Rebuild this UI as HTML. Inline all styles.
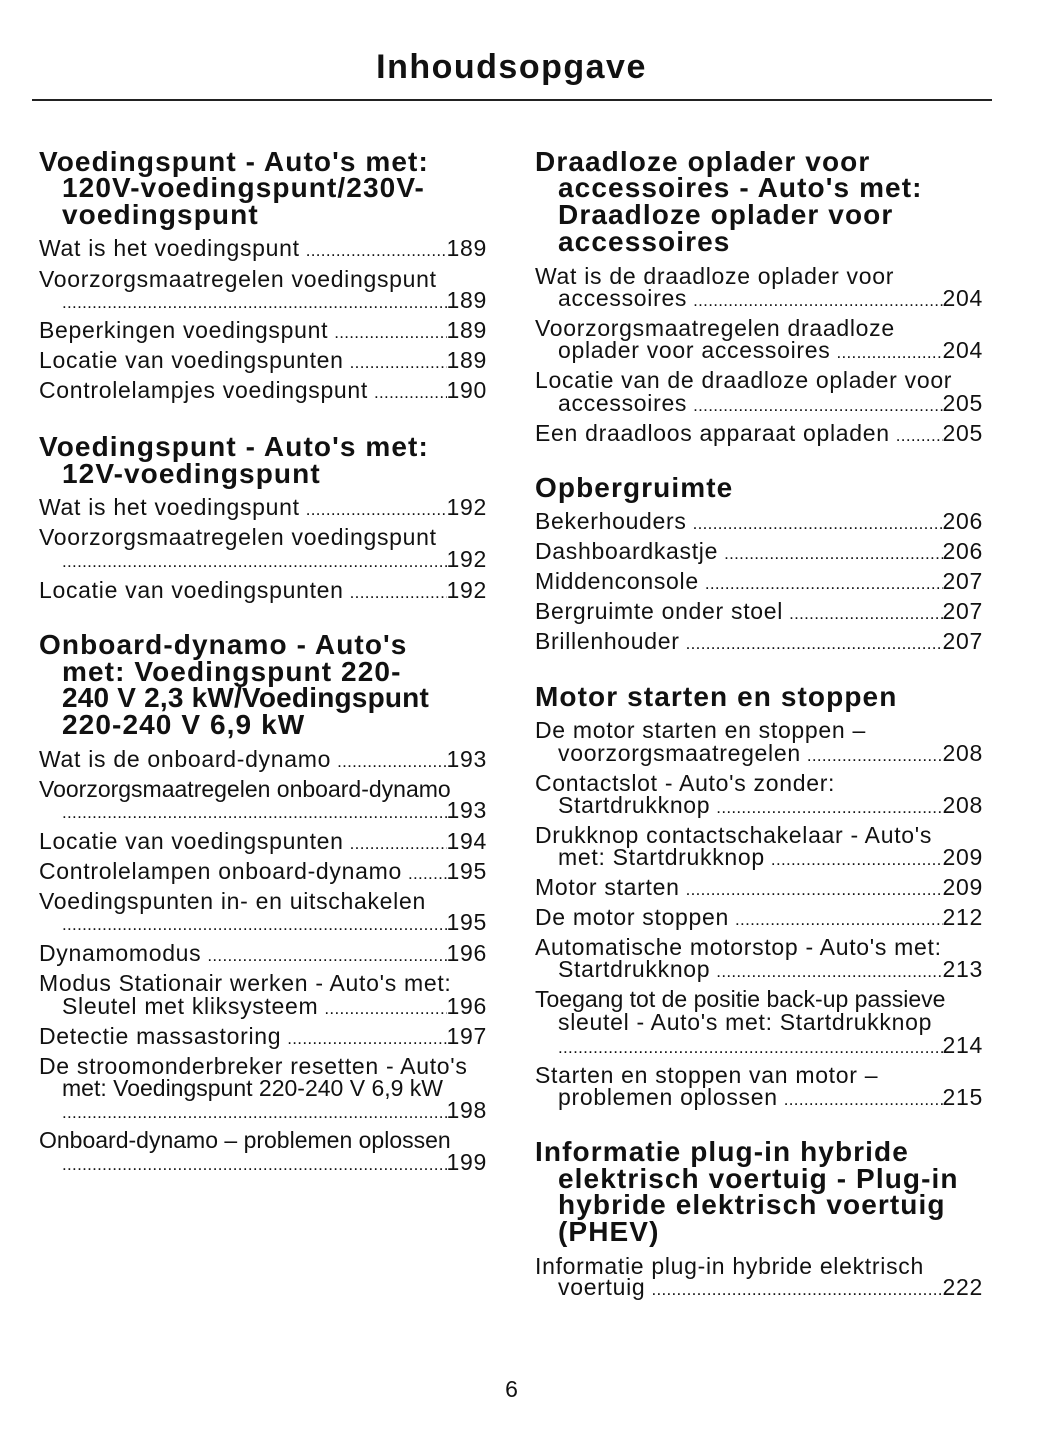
<!DOCTYPE html>
<html><head><meta charset="utf-8"><style>
body{margin:0;background:#fff;}
#p{position:relative;width:1055px;height:1448px;overflow:hidden;background:#fff;color:#111;font-family:"Liberation Sans",sans-serif;}
.t{position:absolute;left:0;width:1023px;text-align:center;top:47px;font-size:34px;font-weight:900;line-height:40px;letter-spacing:1.5px;}
.rule{position:absolute;left:32px;top:99px;width:960px;height:1.5px;background:#222;}
.l,.h{position:absolute;white-space:nowrap;display:flex;}
.l{font-size:23px;line-height:26px;height:26px;letter-spacing:0.7px;}
.h{font-size:28px;font-weight:900;line-height:28px;height:28px;letter-spacing:1.1px;}
.L{left:39px;width:448px;}
.R{left:535px;width:448px;}
.i{padding-left:23px;box-sizing:border-box;}
.d{flex:1;overflow:hidden;font-size:17px;letter-spacing:0.3px;padding:0 2px 0 6px;align-self:flex-end;line-height:20px;}
.i .d:first-child{padding-left:0;}
.pn{position:absolute;left:0;width:1023px;text-align:center;top:1376px;font-size:23px;line-height:26px;}
</style></head><body><div id="p">
<div class="t">Inhoudsopgave</div>
<div class="rule"></div>

<div class="h L" style="top:148px">Voedingspunt - Auto's met:</div>
<div class="h L i" style="top:174px">120V-voedingspunt/230V-</div>
<div class="h L i" style="top:201px">voedingspunt</div>
<div class="l L" style="top:235px"><span>Wat is het voedingspunt</span><span class="d">................................................................................................</span><span>189</span></div>
<div class="l L" style="top:266px"><span>Voorzorgsmaatregelen voedingspunt</span></div>
<div class="l L i" style="top:287px"><span class="d">................................................................................................................................</span><span>189</span></div>
<div class="l L" style="top:317px"><span>Beperkingen voedingspunt</span><span class="d">................................................................................................</span><span>189</span></div>
<div class="l L" style="top:347px"><span>Locatie van voedingspunten</span><span class="d">................................................................................................</span><span>189</span></div>
<div class="l L" style="top:377px"><span>Controlelampjes voedingspunt</span><span class="d">................................................................................................</span><span>190</span></div>

<div class="h L" style="top:433px">Voedingspunt - Auto's met:</div>
<div class="h L i" style="top:460px">12V-voedingspunt</div>
<div class="l L" style="top:494px"><span>Wat is het voedingspunt</span><span class="d">................................................................................................</span><span>192</span></div>
<div class="l L" style="top:524px"><span>Voorzorgsmaatregelen voedingspunt</span></div>
<div class="l L i" style="top:546px"><span class="d">................................................................................................................................</span><span>192</span></div>
<div class="l L" style="top:577px"><span>Locatie van voedingspunten</span><span class="d">................................................................................................</span><span>192</span></div>

<div class="h L" style="top:631px">Onboard-dynamo - Auto's</div>
<div class="h L i" style="top:658px">met: Voedingspunt 220-</div>
<div class="h L i" style="top:684px;letter-spacing:0.2px">240 V 2,3 kW/Voedingspunt</div>
<div class="h L i" style="top:711px">220-240 V 6,9 kW</div>
<div class="l L" style="top:746px"><span>Wat is de onboard-dynamo</span><span class="d">................................................................................................</span><span>193</span></div>
<div class="l L" style="top:776px"><span style="letter-spacing:0px">Voorzorgsmaatregelen onboard-dynamo</span></div>
<div class="l L i" style="top:797px"><span class="d">................................................................................................................................</span><span>193</span></div>
<div class="l L" style="top:828px"><span>Locatie van voedingspunten</span><span class="d">................................................................................................</span><span>194</span></div>
<div class="l L" style="top:858px"><span>Controlelampen onboard-dynamo</span><span class="d">................................................................................................</span><span>195</span></div>
<div class="l L" style="top:888px"><span>Voedingspunten in- en uitschakelen</span></div>
<div class="l L i" style="top:909px"><span class="d">................................................................................................................................</span><span>195</span></div>
<div class="l L" style="top:940px"><span>Dynamomodus</span><span class="d">................................................................................................</span><span>196</span></div>
<div class="l L" style="top:970px"><span>Modus Stationair werken - Auto's met:</span></div>
<div class="l L i" style="top:993px"><span>Sleutel met kliksysteem</span><span class="d">................................................................................................</span><span>196</span></div>
<div class="l L" style="top:1023px"><span>Detectie massastoring</span><span class="d">................................................................................................</span><span>197</span></div>
<div class="l L" style="top:1053px"><span>De stroomonderbreker resetten - Auto's</span></div>
<div class="l L i" style="top:1075px"><span style="letter-spacing:0px">met: Voedingspunt 220-240 V 6,9 kW</span></div>
<div class="l L i" style="top:1097px"><span class="d">................................................................................................................................</span><span>198</span></div>
<div class="l L" style="top:1127px"><span style="letter-spacing:0px">Onboard-dynamo – problemen oplossen</span></div>
<div class="l L i" style="top:1149px"><span class="d">................................................................................................................................</span><span>199</span></div>

<div class="h R" style="top:148px">Draadloze oplader voor</div>
<div class="h R i" style="top:174px">accessoires - Auto's met:</div>
<div class="h R i" style="top:201px">Draadloze oplader voor</div>
<div class="h R i" style="top:228px">accessoires</div>
<div class="l R" style="top:263px"><span>Wat is de draadloze oplader voor</span></div>
<div class="l R i" style="top:285px"><span>accessoires</span><span class="d">................................................................................................</span><span>204</span></div>
<div class="l R" style="top:315px"><span>Voorzorgsmaatregelen draadloze</span></div>
<div class="l R i" style="top:337px"><span>oplader voor accessoires</span><span class="d">................................................................................................</span><span>204</span></div>
<div class="l R" style="top:367px"><span>Locatie van de draadloze oplader voor</span></div>
<div class="l R i" style="top:390px"><span>accessoires</span><span class="d">................................................................................................</span><span>205</span></div>
<div class="l R" style="top:420px"><span>Een draadloos apparaat opladen</span><span class="d">................................................................................................</span><span>205</span></div>

<div class="h R" style="top:474px">Opbergruimte</div>
<div class="l R" style="top:508px"><span>Bekerhouders</span><span class="d">................................................................................................</span><span>206</span></div>
<div class="l R" style="top:538px"><span>Dashboardkastje</span><span class="d">................................................................................................</span><span>206</span></div>
<div class="l R" style="top:568px"><span>Middenconsole</span><span class="d">................................................................................................</span><span>207</span></div>
<div class="l R" style="top:598px"><span>Bergruimte onder stoel</span><span class="d">................................................................................................</span><span>207</span></div>
<div class="l R" style="top:628px"><span>Brillenhouder</span><span class="d">................................................................................................</span><span>207</span></div>

<div class="h R" style="top:683px">Motor starten en stoppen</div>
<div class="l R" style="top:717px"><span>De motor starten en stoppen –</span></div>
<div class="l R i" style="top:740px"><span>voorzorgsmaatregelen</span><span class="d">................................................................................................</span><span>208</span></div>
<div class="l R" style="top:770px"><span>Contactslot - Auto's zonder:</span></div>
<div class="l R i" style="top:792px"><span>Startdrukknop</span><span class="d">................................................................................................</span><span>208</span></div>
<div class="l R" style="top:822px"><span>Drukknop contactschakelaar - Auto's</span></div>
<div class="l R i" style="top:844px"><span>met: Startdrukknop</span><span class="d">................................................................................................</span><span>209</span></div>
<div class="l R" style="top:874px"><span>Motor starten</span><span class="d">................................................................................................</span><span>209</span></div>
<div class="l R" style="top:904px"><span>De motor stoppen</span><span class="d">................................................................................................</span><span>212</span></div>
<div class="l R" style="top:934px"><span>Automatische motorstop - Auto's met:</span></div>
<div class="l R i" style="top:956px"><span>Startdrukknop</span><span class="d">................................................................................................</span><span>213</span></div>
<div class="l R" style="top:986px"><span style="letter-spacing:0px">Toegang tot de positie back-up passieve</span></div>
<div class="l R i" style="top:1009px"><span>sleutel - Auto's met: Startdrukknop</span></div>
<div class="l R i" style="top:1032px"><span class="d">................................................................................................................................</span><span>214</span></div>
<div class="l R" style="top:1062px"><span>Starten en stoppen van motor –</span></div>
<div class="l R i" style="top:1084px"><span>problemen oplossen</span><span class="d">................................................................................................</span><span>215</span></div>

<div class="h R" style="top:1138px">Informatie plug-in hybride</div>
<div class="h R i" style="top:1165px">elektrisch voertuig - Plug-in</div>
<div class="h R i" style="top:1191px">hybride elektrisch voertuig</div>
<div class="h R i" style="top:1218px">(PHEV)</div>
<div class="l R" style="top:1253px"><span>Informatie plug-in hybride elektrisch</span></div>
<div class="l R i" style="top:1274px"><span>voertuig</span><span class="d">................................................................................................</span><span>222</span></div>

<div class="pn">6</div>
</div></body></html>
